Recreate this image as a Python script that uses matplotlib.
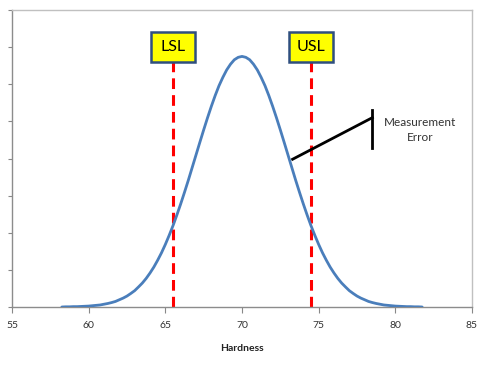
import matplotlib
matplotlib.use("Agg")
import matplotlib.pyplot as plt
from matplotlib.patches import Rectangle

plt.rcParams['font.family'] = ['Lato', 'DejaVu Sans']

# Curve values (hardness vs. relative frequency)
hardness = [58.25, 58.5, 58.75, 59.0, 59.25, 59.5, 59.75, 60.0, 60.25, 60.5, 60.75,
            61.0, 61.25, 61.5, 61.75, 62.0, 62.25, 62.5, 62.75, 63.0, 63.25, 63.5,
            63.75, 64.0, 64.25, 64.5, 64.75, 65.0, 65.25, 65.5, 65.75, 66.0, 66.25,
            66.5, 66.75, 67.0, 67.25, 67.5, 67.75, 68.0, 68.25, 68.5, 68.75, 69.0,
            69.25, 69.5, 69.75, 70.0, 70.25, 70.5, 70.75, 71.0, 71.25, 71.5, 71.75,
            72.0, 72.25, 72.5, 72.75, 73.0, 73.25, 73.5, 73.75, 74.0, 74.25, 74.5,
            74.75, 75.0, 75.25, 75.5, 75.75, 76.0, 76.25, 76.5, 76.75, 77.0, 77.25,
            77.5, 77.75, 78.0, 78.25, 78.5, 78.75, 79.0, 79.25, 79.5, 79.75, 80.0,
            80.25, 80.5, 80.75, 81.0, 81.25, 81.5, 81.75]
density = [0.0000, 0.0001, 0.0001, 0.0002, 0.0002, 0.0003, 0.0004, 0.0005, 0.0007,
           0.0009, 0.0011, 0.0015, 0.0019, 0.0024, 0.0030, 0.0039, 0.0048, 0.0059,
           0.0073, 0.0088, 0.0108, 0.0129, 0.0154, 0.0183, 0.0215, 0.0252, 0.0292,
           0.0337, 0.0386, 0.0438, 0.0495, 0.0555, 0.0618, 0.0683, 0.0751, 0.0819,
           0.0887, 0.0954, 0.1019, 0.1081, 0.1139, 0.1192, 0.1237, 0.1277, 0.1308,
           0.1332, 0.1345, 0.1350, 0.1345, 0.1332, 0.1308, 0.1277, 0.1237, 0.1192,
           0.1139, 0.1081, 0.1019, 0.0954, 0.0887, 0.0819, 0.0751, 0.0683, 0.0618,
           0.0555, 0.0495, 0.0438, 0.0386, 0.0337, 0.0292, 0.0252, 0.0215, 0.0183,
           0.0154, 0.0129, 0.0108, 0.0088, 0.0073, 0.0059, 0.0048, 0.0039, 0.0030,
           0.0024, 0.0019, 0.0015, 0.0011, 0.0009, 0.0007, 0.0005, 0.0004, 0.0003,
           0.0002, 0.0002, 0.0001, 0.0001, 0.0000]

spec_names = ["LSL", "USL"]
spec_values = [65.5, 74.5]

x_ticks = [55, 60, 65, 70, 75, 80, 85]
y_ticks = [0.0, 0.02, 0.04, 0.06, 0.08, 0.10, 0.12, 0.14, 0.16]
x_label = "Hardness"
note_text = "Measurement\nError"

fig = plt.figure(figsize=(4.85, 3.65), dpi=100)
ax = fig.add_axes([12/485, 58/365, 460/485, 297/365])

ax.plot(hardness, density, color="#4A7EBB", lw=2.0, solid_capstyle="round", zorder=3)

ax.set_xlim(55, 85)
ax.set_ylim(0, 0.16)
ax.set_xticks(x_ticks)
ax.set_xticklabels([str(t) for t in x_ticks], fontsize=7.5, color="#333333")
ax.set_yticks(y_ticks)
ax.set_yticklabels([])
ax.tick_params(axis='x', direction='out', length=4, width=0.8, color="#888888", pad=6)
ax.tick_params(axis='y', direction='out', length=3, width=0.8, color="#888888")
ax.set_xlabel(x_label, fontsize=7.5, fontweight='bold', color="#222222", labelpad=10)

for s in ['left', 'bottom']:
    ax.spines[s].set_color("#8c8c8c")
    ax.spines[s].set_linewidth(1.0)
for s in ['top', 'right']:
    ax.spines[s].set_color("#c0c0c0")
    ax.spines[s].set_linewidth(1.0)

# Spec limit dashed lines and labelled boxes
box_w, box_h, box_y = 2.85, 0.0162, 0.1401
for name, v in zip(spec_names, spec_values):
    ax.plot([v, v], [0, box_y - box_h / 2], color="#FF0000", lw=2.2,
            ls=(0, (3.5, 2.0)), zorder=2)
    ax.add_patch(Rectangle((v - box_w / 2, box_y - box_h / 2), box_w, box_h,
                           facecolor="#FFFF00", edgecolor="#2F4F7F", lw=1.8, zorder=5))
    ax.text(v, box_y, name, ha='center', va='center', fontsize=11.5, color="#000000",
            zorder=6)

# Measurement error annotation
ax.plot([73.3, 78.5], [0.0796, 0.1020], color="black", lw=2.0, zorder=4)
ax.plot([78.5, 78.5], [0.0855, 0.1061], color="black", lw=2.0, zorder=4)
ax.text(81.6, 0.0952, note_text, ha='center', va='center', fontsize=8.5,
        color="#333333", linespacing=1.45)

fig.savefig("out.png", dpi=100)
